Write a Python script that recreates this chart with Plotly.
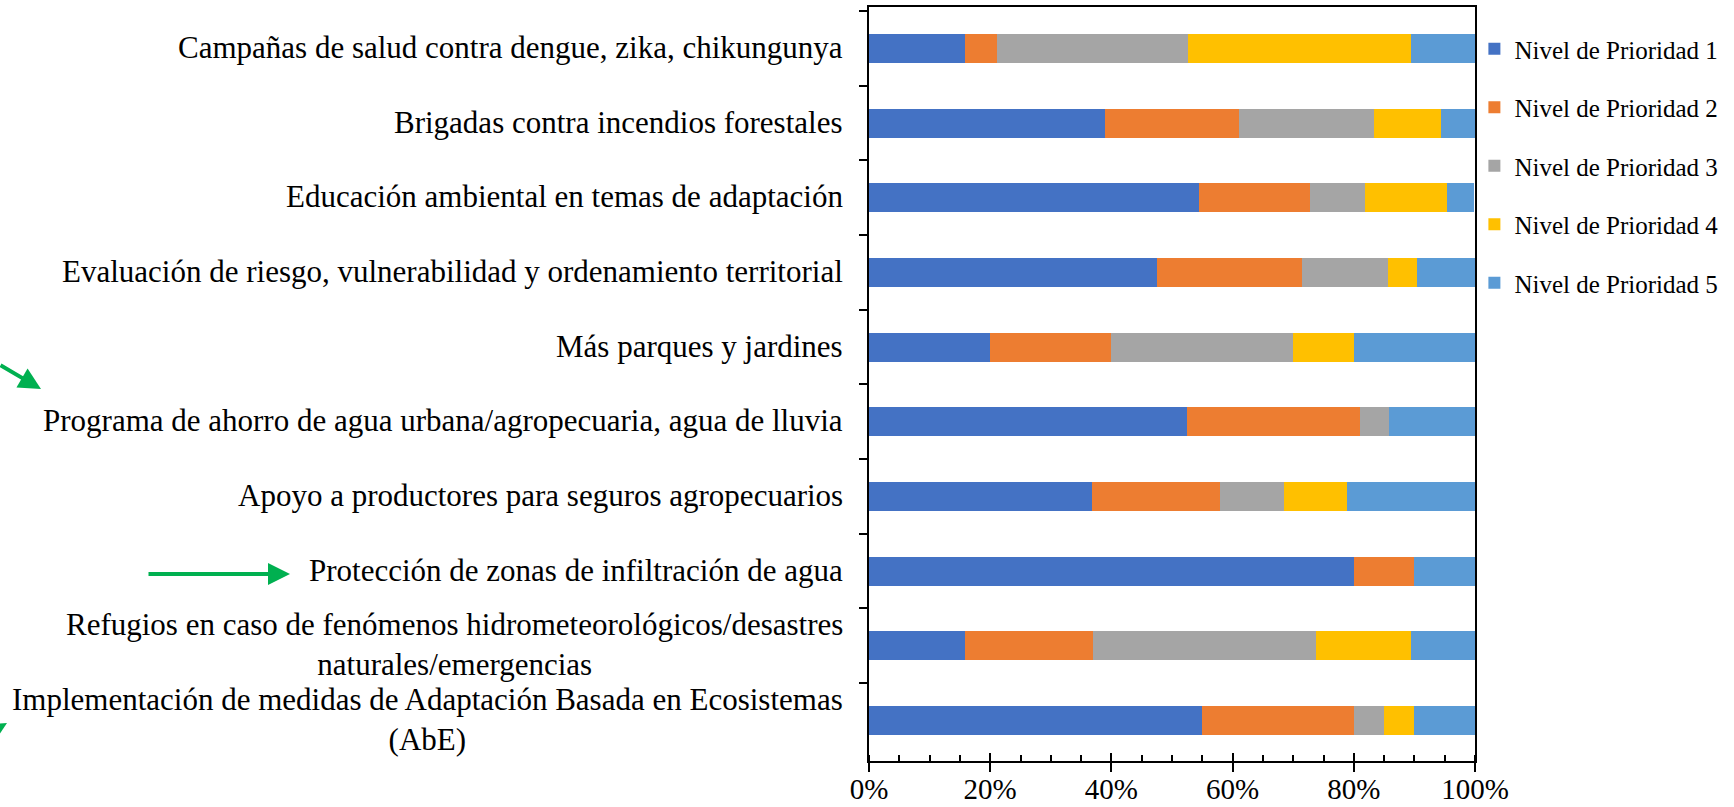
import plotly.graph_objects as go

categories = [
    "Campañas de salud contra dengue, zika, chikungunya",
    "Brigadas contra incendios forestales",
    "Educación ambiental en temas de adaptación",
    "Evaluación de riesgo, vulnerabilidad y ordenamiento territorial",
    "Más parques y jardines",
    "Programa de ahorro de agua urbana/agropecuaria, agua de lluvia",
    "Apoyo a productores para seguros agropecuarios",
    "Protección de zonas de infiltración de agua",
    "Refugios en caso de fenómenos hidrometeorológicos/desastres<br>naturales/emergencias",
    "Implementación de medidas de Adaptación Basada en Ecosistemas<br>(AbE)",
]
series_names = ["Nivel de Prioridad 1", "Nivel de Prioridad 2", "Nivel de Prioridad 3",
                "Nivel de Prioridad 4", "Nivel de Prioridad 5"]
p1 = [15.8, 38.9, 54.5, 47.6, 20.0, 52.4, 36.8, 80.0, 15.8, 55.0]
p2 = [5.3, 22.2, 18.2, 23.8, 20.0, 28.6, 21.1, 10.0, 21.1, 25.0]
p3 = [31.6, 22.2, 9.1, 14.3, 30.0, 4.8, 10.5, 0.0, 36.8, 5.0]
p4 = [36.8, 11.1, 13.6, 4.8, 10.0, 0.0, 10.5, 0.0, 15.8, 5.0]
p5 = [10.5, 5.6, 4.5, 9.5, 20.0, 14.3, 21.1, 10.0, 10.5, 10.0]
x_ticks = [0, 20, 40, 60, 80, 100]
x_tick_labels = ["0%", "20%", "40%", "60%", "80%", "100%"]

series_values = [p1, p2, p3, p4, p5]
colors = ["#4472C4", "#ED7D31", "#A5A5A5", "#FFC000", "#5B9BD5"]

FONT = "Liberation Serif, Times New Roman, serif"
W, H = 1734, 807
ML, MR, MT, MB = 869, 259, 7, 46
pw = W - ML - MR
ph = H - MT - MB

fig = go.Figure()
for name, vals, c in zip(series_names, series_values, colors):
    fig.add_trace(go.Bar(
        y=categories, x=vals, name=name, orientation="h",
        marker=dict(color=c, line=dict(width=0)),
        legendgroup=name,
    ))

# overlay axis to draw the inside half of the major ticks
fig.add_trace(go.Scatter(x=[0, 100], y=[categories[0], categories[0]], xaxis="x2",
                         mode="markers", marker=dict(opacity=0), showlegend=False,
                         hoverinfo="skip"))

fig.update_layout(
    width=W, height=H,
    barmode="stack", bargap=0.61,
    plot_bgcolor="white", paper_bgcolor="white",
    margin=dict(l=ML, r=MR, t=MT, b=MB, autoexpand=False),
    font=dict(family=FONT, color="black", size=30),
    xaxis=dict(range=[0, 100], tickmode="array", tickvals=x_ticks, ticktext=x_tick_labels,
               ticks="outside", ticklen=9, tickwidth=2, tickcolor="black",
               ticklabelstandoff=-8,
               showline=True, linecolor="black", linewidth=2, mirror=True,
               showgrid=False, zeroline=False,
               tickfont=dict(size=29, family=FONT, color="black"),
               minor=dict(dtick=5, tick0=0, ticks="inside", ticklen=6,
                          tickwidth=1.5, tickcolor="black", showgrid=False)),
    xaxis2=dict(range=[0, 100], overlaying="x", anchor="y", side="bottom",
                tickvals=x_ticks, ticks="inside", ticklen=8, tickwidth=2,
                tickcolor="black", showticklabels=False, showgrid=False,
                zeroline=False, showline=False),
    yaxis=dict(autorange="reversed", type="category", tickson="boundaries",
               ticks="outside", ticklen=8, tickwidth=2, tickcolor="black",
               showline=True, linecolor="black", linewidth=2, mirror=True,
               showgrid=False, showticklabels=False),
    legend=dict(x=0.999, xanchor="left", y=1 - (46 - 7 - 20) / ph, yanchor="top",
                font=dict(family=FONT, size=25, color="black"),
                tracegroupgap=23, itemwidth=30, bgcolor="rgba(0,0,0,0)"),
    showlegend=True,
)

# category labels, centered multi-line text right-aligned to the axis
for cat in categories:
    fig.add_annotation(x=0, xref="paper", y=cat, yref="y", text=cat,
                       xanchor="right", yanchor="middle", align="center",
                       xshift=-24, yshift=1, showarrow=False,
                       font=dict(family=FONT, size=31, color="black"))

GREEN = "#00B050"
def px_to_paper(px, py):
    return (px - ML) / pw, (H - MB - py) / ph

# arrows whose tails lie on the canvas
arrows = [((41, 389), (-41, -24)), ((290, 574), (-142, 0))]
for (tx, ty), (ax, ay) in arrows:
    x, y = px_to_paper(tx, ty)
    fig.add_annotation(x=x, y=y, xref="paper", yref="paper", ax=ax, ay=ay,
                       axref="pixel", ayref="pixel", text="", showarrow=True,
                       font=dict(size=1), borderpad=0,
                       arrowhead=2, arrowsize=1.1, arrowwidth=4, arrowcolor=GREEN,
                       standoff=0, startstandoff=0)

# arrowhead cut by the left edge of the picture (bottom-left)
tri = [(7, 723), (-3, 738), (-11, 724)]
pts = [px_to_paper(a, b) for a, b in tri]
path = "M " + " L ".join(f"{a:.5f},{b:.5f}" for a, b in pts) + " Z"
fig.add_shape(type="path", path=path, xref="paper", yref="paper",
              fillcolor=GREEN, line=dict(width=0), layer="above")

fig.write_html("out.html", config={"displayModeBar": False},
               post_script="document.body.style.margin='0';document.body.style.overflow='hidden';")
